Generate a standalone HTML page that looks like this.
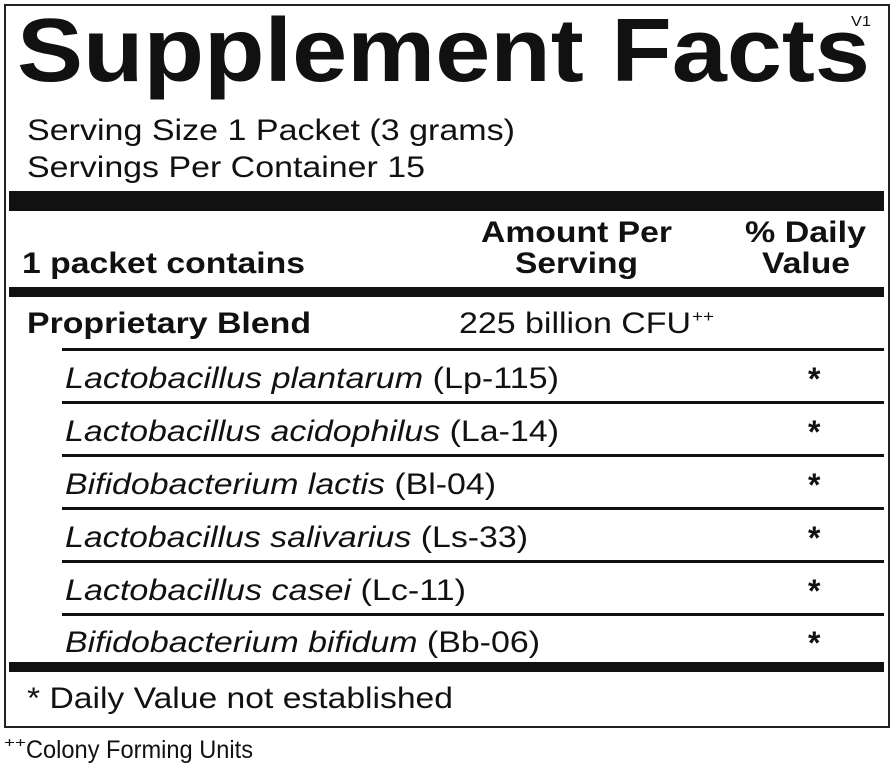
<!DOCTYPE html>
<html><head><meta charset="utf-8"><style>html,body{margin:0;padding:0;background:#fff;}svg{display:block}</style></head>
<body>
<svg width="896" height="772" viewBox="0 0 896 772" xmlns="http://www.w3.org/2000/svg" font-family="Liberation Sans, Arial, sans-serif" fill="#111">
<rect x="5" y="5" width="884" height="722" fill="#fff" stroke="#222" stroke-width="2"/>
<text x="17" y="81" font-size="90" font-weight="bold" textLength="853" lengthAdjust="spacingAndGlyphs">Supplement Facts</text>
<text x="851" y="26" font-size="15" textLength="20" lengthAdjust="spacingAndGlyphs">V1</text>
<text x="27" y="140" font-size="30" textLength="488" lengthAdjust="spacingAndGlyphs">Serving Size 1 Packet (3 grams)</text>
<text x="27" y="177" font-size="30" textLength="398" lengthAdjust="spacingAndGlyphs">Servings Per Container 15</text>
<rect x="9" y="191" width="875" height="20" fill="#111"/>
<text x="481" y="242" font-size="30" font-weight="bold" textLength="191" lengthAdjust="spacingAndGlyphs">Amount Per</text>
<text x="515" y="273" font-size="30" font-weight="bold" textLength="123" lengthAdjust="spacingAndGlyphs">Serving</text>
<text x="745" y="242" font-size="30" font-weight="bold" textLength="121" lengthAdjust="spacingAndGlyphs">% Daily</text>
<text x="762" y="273" font-size="30" font-weight="bold" textLength="88" lengthAdjust="spacingAndGlyphs">Value</text>
<text x="22" y="273" font-size="30" font-weight="bold" textLength="283" lengthAdjust="spacingAndGlyphs">1 packet contains</text>
<rect x="9" y="287" width="875" height="10" fill="#111"/>
<text x="27" y="333" font-size="30" font-weight="bold" textLength="284" lengthAdjust="spacingAndGlyphs">Proprietary Blend</text>
<text x="459" y="333" font-size="30" textLength="232" lengthAdjust="spacingAndGlyphs">225 billion CFU</text>
<text x="692" y="322" font-size="17" textLength="22" lengthAdjust="spacingAndGlyphs">++</text>
<g fill="#111">
<rect x="62" y="348" width="822" height="3"/>
<rect x="62" y="401" width="822" height="3"/>
<rect x="62" y="454" width="822" height="3"/>
<rect x="62" y="507" width="822" height="3"/>
<rect x="62" y="560" width="822" height="3"/>
<rect x="62" y="613" width="822" height="3"/>
</g>
<g font-size="30">
<text x="65" y="388" textLength="494" lengthAdjust="spacingAndGlyphs"><tspan font-style="italic">Lactobacillus plantarum</tspan> (Lp-115)</text>
<text x="65" y="441" textLength="494" lengthAdjust="spacingAndGlyphs"><tspan font-style="italic">Lactobacillus acidophilus</tspan> (La-14)</text>
<text x="65" y="494" textLength="431" lengthAdjust="spacingAndGlyphs"><tspan font-style="italic">Bifidobacterium lactis</tspan> (Bl-04)</text>
<text x="65" y="547" textLength="463" lengthAdjust="spacingAndGlyphs"><tspan font-style="italic">Lactobacillus salivarius</tspan> (Ls-33)</text>
<text x="65" y="600" textLength="401" lengthAdjust="spacingAndGlyphs"><tspan font-style="italic">Lactobacillus casei</tspan> (Lc-11)</text>
<text x="65" y="652" textLength="475" lengthAdjust="spacingAndGlyphs"><tspan font-style="italic">Bifidobacterium bifidum</tspan> (Bb-06)</text>
</g>
<g font-size="32" font-weight="bold">
<text x="808" y="390">*</text>
<text x="808" y="443">*</text>
<text x="808" y="496">*</text>
<text x="808" y="549">*</text>
<text x="808" y="602">*</text>
<text x="808" y="654">*</text>
</g>
<rect x="9" y="662" width="875" height="10" fill="#111"/>
<text x="27" y="708" font-size="30" textLength="426" lengthAdjust="spacingAndGlyphs">* Daily Value not established</text>
<text x="4" y="747" font-size="14" textLength="22" lengthAdjust="spacingAndGlyphs">++</text>
<text x="26" y="758" font-size="25" textLength="227" lengthAdjust="spacingAndGlyphs">Colony Forming Units</text>
</svg>
</body></html>
